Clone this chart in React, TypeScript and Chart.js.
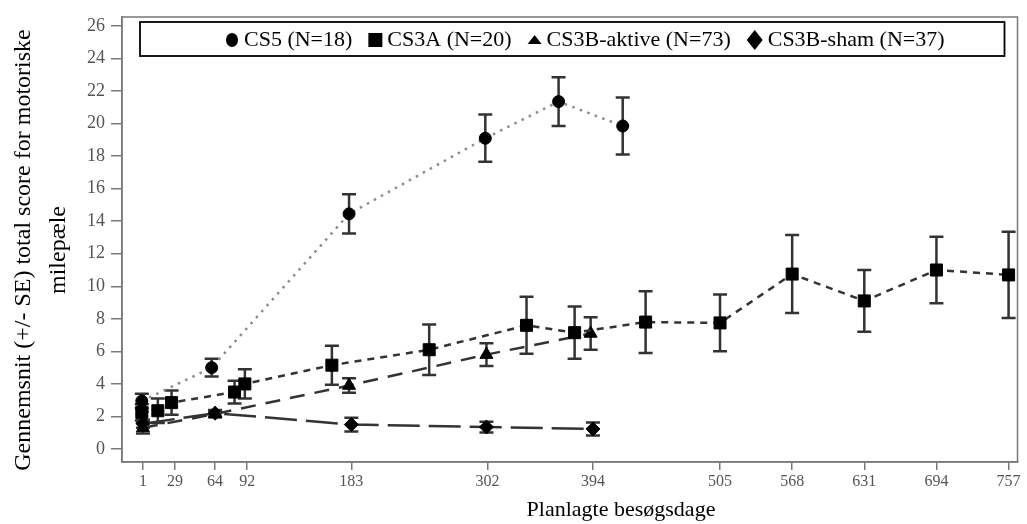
import React, { useEffect, useRef } from 'react';
import { Chart, registerables } from 'chart.js';

Chart.register(...registerables);

const seriesNames = ['CS5 (N=18)', 'CS3A (N=20)', 'CS3B-aktive (N=73)', 'CS3B-sham (N=37)'];

const cs5Days = [0, 61, 181, 300, 364, 420];
const cs5Mean = [2.95, 5.0, 14.45, 19.1, 21.35, 19.85];
const cs5SE = [0.45, 0.55, 1.2, 1.45, 1.5, 1.75];

const cs3aDays = [0, 14, 26, 81, 90, 166, 251, 336, 378, 440, 505, 568, 631, 694, 757];
const cs3aMean = [2.25, 2.35, 2.85, 3.5, 4.0, 5.15, 6.1, 7.6, 7.15, 7.8, 7.75, 10.75, 9.1, 11.0, 10.7];
const cs3aSE = [0.5, 0.75, 0.75, 0.7, 0.9, 1.2, 1.55, 1.75, 1.6, 1.9, 1.75, 2.4, 1.9, 2.05, 2.65];

const aktivDays = [1, 64, 181, 301, 392];
const aktivMean = [1.3, 2.15, 3.9, 5.8, 7.1];
const aktivSE = [0.35, 0.2, 0.45, 0.7, 1.0];

const shamDays = [1, 64, 183, 301, 394];
const shamMean = [1.55, 2.2, 1.5, 1.35, 1.23];
const shamSE = [0.25, 0.2, 0.42, 0.33, 0.4];

const xTickValues = [1, 29, 64, 92, 183, 302, 394, 505, 568, 631, 694, 757];
const yTickValues = [0, 2, 4, 6, 8, 10, 12, 14, 16, 18, 20, 22, 24, 26];

const xTitle = 'Planlagte besøgsdage';
const yTitleLines = ['Gennemsnit (+/- SE) total score for motoriske', 'milepæle'];

const markerStyles = ['circle', 'square', 'triangle', 'diamond'];

const SERIF = '"Liberation Serif", "Times New Roman", serif';

function toPoints(days: number[], vals: number[]) {
  return days.map((d, i) => ({ x: d, y: vals[i] }));
}

const errorSeries = [
  { days: cs5Days, mean: cs5Mean, se: cs5SE },
  { days: cs3aDays, mean: cs3aMean, se: cs3aSE },
  { days: aktivDays, mean: aktivMean, se: aktivSE },
  { days: shamDays, mean: shamMean, se: shamSE },
];

function drawLegendMarker(ctx: CanvasRenderingContext2D, style: string, cx: number, cy: number) {
  ctx.beginPath();
  if (style === 'circle') {
    ctx.ellipse(cx, cy, 6, 7, 0, 0, Math.PI * 2);
  } else if (style === 'square') {
    ctx.rect(cx - 7, cy - 7, 14, 14);
  } else if (style === 'triangle') {
    ctx.moveTo(cx, cy - 5);
    ctx.lineTo(cx + 7, cy + 4);
    ctx.lineTo(cx - 7, cy + 4);
    ctx.closePath();
  } else {
    ctx.moveTo(cx, cy - 10);
    ctx.lineTo(cx + 8, cy);
    ctx.lineTo(cx, cy + 10);
    ctx.lineTo(cx - 8, cy);
    ctx.closePath();
  }
  ctx.fillStyle = '#000';
  ctx.fill();
}

const decorPlugin = {
  id: 'decor',
  beforeDatasetsDraw(chart: any) {
    const ctx: CanvasRenderingContext2D = chart.ctx;
    const xs = chart.scales.x;
    const ys = chart.scales.y;
    ctx.save();
    ctx.strokeStyle = '#333';
    ctx.lineWidth = 2.5;
    errorSeries.forEach((s) => {
      s.days.forEach((d, i) => {
        const px = xs.getPixelForValue(d);
        const top = ys.getPixelForValue(s.mean[i] + s.se[i]);
        const bot = ys.getPixelForValue(s.mean[i] - s.se[i]);
        ctx.beginPath();
        ctx.moveTo(px, top);
        ctx.lineTo(px, bot);
        ctx.moveTo(px - 7, top);
        ctx.lineTo(px + 7, top);
        ctx.moveTo(px - 7, bot);
        ctx.lineTo(px + 7, bot);
        ctx.stroke();
      });
    });
    ctx.restore();
  },
  afterDraw(chart: any) {
    const ctx: CanvasRenderingContext2D = chart.ctx;
    const a = chart.chartArea;
    ctx.save();
    // frame
    ctx.strokeStyle = '#7a7a7a';
    ctx.lineWidth = 1.5;
    ctx.strokeRect(a.left, a.top, a.right - a.left, a.bottom - a.top);

    // legend box
    const bx = a.left + 18;
    const by = a.top + 5;
    const bw = a.right - a.left - 31;
    const bh = 34;
    ctx.fillStyle = '#fff';
    ctx.fillRect(bx, by, bw, bh);
    ctx.strokeStyle = '#000';
    ctx.lineWidth = 1.8;
    ctx.strokeRect(bx, by, bw, bh);
    ctx.font = `22px ${SERIF}`;
    ctx.textBaseline = 'middle';
    ctx.textAlign = 'left';
    const cy = by + bh / 2 + 1;
    let cx = a.left + 103;
    seriesNames.forEach((name, i) => {
      const mw = markerStyles[i] === 'diamond' ? 16 : 14;
      drawLegendMarker(ctx, markerStyles[i], cx + mw / 2, cy);
      cx += mw + 5;
      ctx.fillStyle = '#000';
      ctx.fillText(name, cx, cy);
      cx += ctx.measureText(name).width + 16;
    });

    // x title
    ctx.font = `22px ${SERIF}`;
    ctx.fillStyle = '#000';
    ctx.textAlign = 'center';
    ctx.textBaseline = 'alphabetic';
    ctx.fillText(xTitle, 621, 516);

    // y title
    ctx.font = `24px ${SERIF}`;
    ctx.translate(30, 250);
    ctx.rotate(-Math.PI / 2);
    ctx.fillText(yTitleLines[0], 0, 0);
    ctx.fillText(yTitleLines[1], 0, 35);
    ctx.restore();
  },
};

export default function App() {
  const ref = useRef<HTMLCanvasElement | null>(null);
  useEffect(() => {
    document.body.style.margin = '0';
    if (!ref.current) return;
    const lineColor = '#333';
    const chart = new Chart(ref.current, {
      type: 'line',
      data: {
        datasets: [
          {
            label: seriesNames[0],
            data: toPoints(cs5Days, cs5Mean),
            borderColor: '#8c8c8c',
            borderWidth: 2.5,
            borderDash: [2.5, 5.5],
            pointStyle: 'circle',
            pointRadius: 6,
            pointBackgroundColor: '#000',
            pointBorderColor: '#000',
            pointBorderWidth: 1,
            fill: false,
          },
          {
            label: seriesNames[1],
            data: toPoints(cs3aDays, cs3aMean),
            borderColor: lineColor,
            borderWidth: 2.5,
            borderDash: [7, 6],
            pointStyle: 'rect',
            pointRadius: 8.5,
            pointBackgroundColor: '#000',
            pointBorderColor: '#000',
            pointBorderWidth: 1,
            fill: false,
          },
          {
            label: seriesNames[2],
            data: toPoints(aktivDays, aktivMean),
            borderColor: lineColor,
            borderWidth: 2.5,
            borderDash: [15, 10],
            pointStyle: 'triangle',
            pointRadius: 7.5,
            pointBackgroundColor: '#000',
            pointBorderColor: '#000',
            pointBorderWidth: 1,
            fill: false,
          },
          {
            label: seriesNames[3],
            data: toPoints(shamDays, shamMean),
            borderColor: lineColor,
            borderWidth: 2.5,
            borderDash: [32, 9],
            pointStyle: 'rectRot',
            pointRadius: 7,
            pointBackgroundColor: '#000',
            pointBorderColor: '#000',
            pointBorderWidth: 1,
            fill: false,
          },
        ],
      },
      options: {
        responsive: false,
        animation: false,
        devicePixelRatio: 1,
        layout: { padding: { left: 0, right: 6, top: 17, bottom: 0 } },
        plugins: {
          legend: { display: false },
          tooltip: { enabled: false },
          title: { display: false },
        },
        scales: {
          x: {
            type: 'linear',
            min: -17.3,
            max: 764.8,
            afterBuildTicks: (scale: any) => {
              scale.ticks = xTickValues.map((v) => ({ value: v }));
            },
            afterFit: (scale: any) => {
              scale.height = 62;
            },
            ticks: {
              autoSkip: false,
              maxRotation: 0,
              minRotation: 0,
              padding: 2,
              color: '#555',
              font: { family: SERIF, size: 16 },
              callback: (v: any) => String(v),
            },
            grid: {
              display: true,
              drawOnChartArea: false,
              drawTicks: true,
              tickLength: 8,
              color: '#7a7a7a',
              lineWidth: 1.5,
            },
            border: { display: true, color: '#7a7a7a', width: 1.5 },
          },
          y: {
            type: 'linear',
            min: -0.8,
            max: 26.55,
            afterBuildTicks: (scale: any) => {
              scale.ticks = yTickValues.map((v) => ({ value: v }));
            },
            afterFit: (scale: any) => {
              scale.width = 122;
            },
            ticks: {
              autoSkip: false,
              padding: 6,
              color: '#555',
              font: { family: SERIF, size: 18 },
              callback: (v: any) => String(v),
            },
            grid: {
              display: true,
              drawOnChartArea: false,
              drawTicks: true,
              tickLength: 11,
              color: '#7a7a7a',
              lineWidth: 1.5,
            },
            border: { display: true, color: '#7a7a7a', width: 1.5 },
          },
        },
      },
      plugins: [decorPlugin],
    } as any);
    return () => chart.destroy();
  }, []);
  return (
    <div style={{ width: 1027, height: 524 }}>
      <canvas ref={ref} width={1027} height={524} />
    </div>
  );
}
